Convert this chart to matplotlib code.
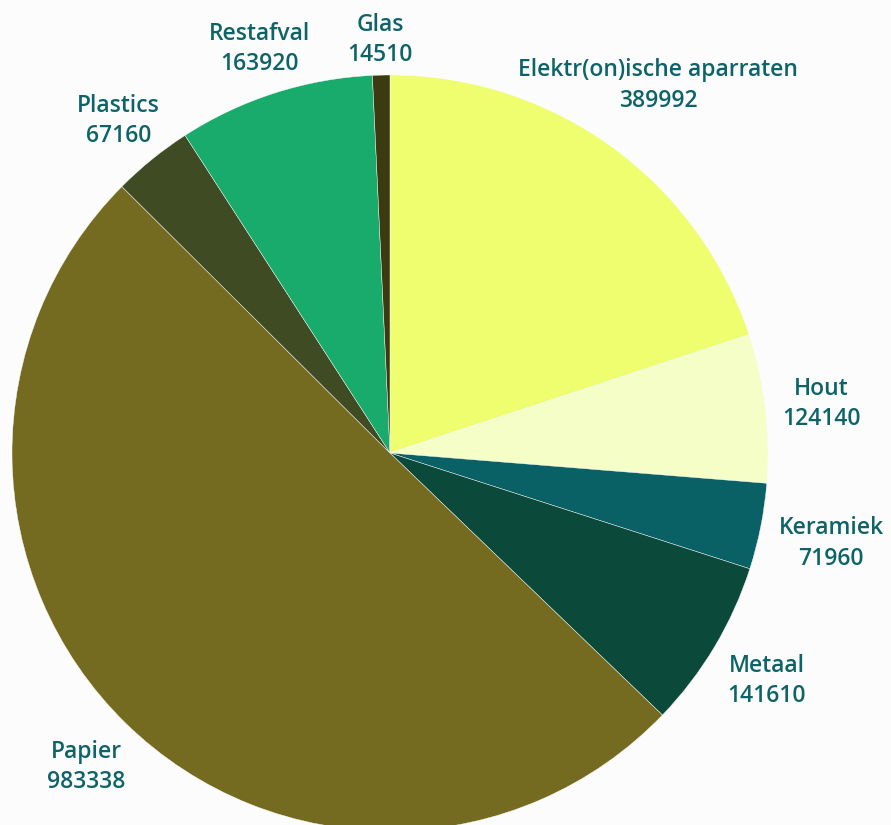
import matplotlib
matplotlib.use("Agg")
import matplotlib.pyplot as plt
import matplotlib.transforms as mtransforms
import numpy as np

# data
labels = ["Elektr(on)ische aparraten", "Hout", "Keramiek", "Metaal",
          "Papier", "Plastics", "Restafval", "Glas"]
values = [389992, 124140, 71960, 141610, 983338, 67160, 163920, 14510]
colors = ["#eefe6f", "#f5fec6", "#0a6165", "#0b4a3a",
          "#756b20", "#3e4b23", "#19ab6b", "#3b3a10"]
label_dist = [1.21, 1.15, 1.19, 1.16, 1.15, 1.14, 1.13, 1.10]

TXT = "#0d6468"
R = 378.0  # pie radius in px
CX, CY = 390.0, 453.0  # centre in px (from top-left)
W, H = 891, 825

fig = plt.figure(figsize=(W / 100, H / 100), dpi=100, facecolor="#fcfcfc")
ax = fig.add_axes([0, 0, 1, 1])
ax.set_facecolor("#fcfcfc")

wedges, _ = ax.pie(values, colors=colors, startangle=90, counterclock=False,
                   radius=1.0, wedgeprops=dict(edgecolor="#fcfcfc", linewidth=0.3))

# nudge labels a few px down (baseline vs visual centre)
shift = mtransforms.offset_copy(ax.transData, fig=fig, x=0, y=-3, units="dots")
for w, lab, val, d in zip(wedges, labels, values, label_dist):
    ang = np.deg2rad((w.theta1 + w.theta2) / 2)
    x, y = d * np.cos(ang), d * np.sin(ang)
    ax.text(x, y, f"{lab}\n{val}", ha="center", va="center", color=TXT,
            fontsize=16.5, fontweight="semibold", family="Open Sans",
            linespacing=1.35, transform=shift)

ax.set_xlim(-CX / R, (W - CX) / R)
ax.set_ylim(-(H - CY) / R, CY / R)
ax.set_aspect("equal")
ax.axis("off")

fig.savefig("out.png", dpi=100, facecolor=fig.get_facecolor())
